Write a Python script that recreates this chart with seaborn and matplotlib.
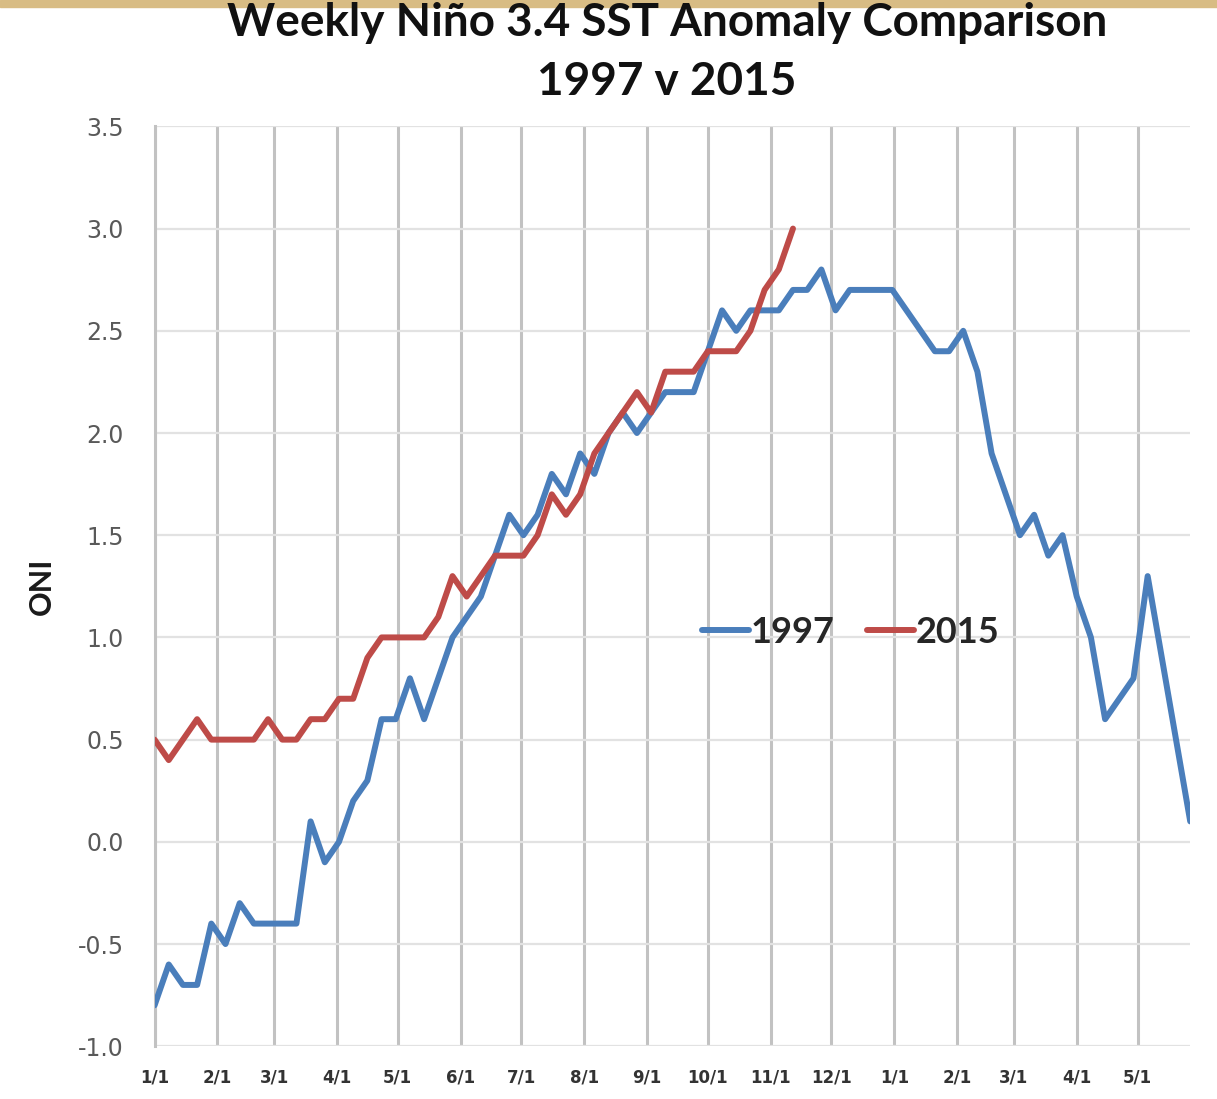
import numpy as np
import pandas as pd
import matplotlib
matplotlib.use('Agg')
import matplotlib.pyplot as plt
import seaborn as sns
from matplotlib.patches import Rectangle

# Anomalias semanais (Niño 3.4)
anom_1997 = [-0.8, -0.6, -0.7, -0.7, -0.4, -0.5, -0.3, -0.4, -0.4, -0.4,
             -0.4, 0.1, -0.1, 0.0, 0.2, 0.3, 0.6, 0.6, 0.8, 0.6,
             0.8, 1.0, 1.1, 1.2, 1.4, 1.6, 1.5, 1.6, 1.8, 1.7,
             1.9, 1.8, 2.0, 2.1, 2.0, 2.1, 2.2, 2.2, 2.2, 2.4,
             2.6, 2.5, 2.6, 2.6, 2.6, 2.7, 2.7, 2.8, 2.6, 2.7,
             2.7, 2.7, 2.7, 2.6, 2.5, 2.4, 2.4, 2.5, 2.3, 1.9,
             1.7, 1.5, 1.6, 1.4, 1.5, 1.2, 1.0, 0.6, 0.7, 0.8,
             1.3, 0.9, 0.5, 0.1]
anom_2015 = [0.5, 0.4, 0.5, 0.6, 0.5, 0.5, 0.5, 0.5, 0.6, 0.5,
             0.5, 0.6, 0.6, 0.7, 0.7, 0.9, 1.0, 1.0, 1.0, 1.0,
             1.1, 1.3, 1.2, 1.3, 1.4, 1.4, 1.4, 1.5, 1.7, 1.6,
             1.7, 1.9, 2.0, 2.1, 2.2, 2.1, 2.3, 2.3, 2.3, 2.4,
             2.4, 2.4, 2.5, 2.7, 2.8, 3.0]
rotulos_meses = ['1/1', '2/1', '3/1', '4/1', '5/1', '6/1', '7/1', '8/1', '9/1',
                 '10/1', '11/1', '12/1', '1/1', '2/1', '3/1', '4/1', '5/1']
ticks_y = [-1.0, -0.5, 0.0, 0.5, 1.0, 1.5, 2.0, 2.5, 3.0, 3.5]

sns.set_theme(style='white')
plt.rcParams['font.family'] = ['Lato', 'DejaVu Sans']

datas = pd.date_range('1997-01-01', periods=len(anom_1997), freq='7D')
df = pd.concat([
    pd.DataFrame({'Data': datas, 'ONI': anom_1997, 'Ano': '1997'}),
    pd.DataFrame({'Data': datas[:len(anom_2015)], 'ONI': anom_2015, 'Ano': '2015'}),
], ignore_index=True)

fig = plt.figure(figsize=(12.17, 10.99), dpi=100)
fig.patch.set_facecolor('white')
fig.patches.append(Rectangle((0, 0.994), 1, 0.006, transform=fig.transFigure,
                             color='#D8BC84', zorder=0))
ax = fig.add_axes([0.127, 0.048, 0.851, 0.837])

sns.lineplot(data=df, x='Data', y='ONI', hue='Ano',
             palette={'1997': '#4A7EBB', '2015': '#BE4B48'},
             linewidth=4.3, ax=ax, zorder=3)

# grade: verticais em cada início de mês, horizontais a cada 0.5
inicio_meses = pd.date_range('1997-01-01', periods=len(rotulos_meses), freq='MS')
ax.set_xticks(inicio_meses)
ax.set_xticklabels(rotulos_meses, fontsize=12, color='#333333', fontweight='bold',
                   fontfamily='DejaVu Sans')
ax.set_xlim(datas[0], datas[-1])
ax.set_yticks(ticks_y)
ax.set_yticklabels([f'{v:.1f}' for v in ticks_y], fontsize=17, color='#595959',
                   fontfamily='DejaVu Sans')
ax.set_ylim(-1.0, 3.5)
ax.grid(axis='x', color='#C2C2C2', linewidth=2.2)
ax.grid(axis='y', color='#E2E2E2', linewidth=1.6)
ax.tick_params(axis='x', length=0, pad=16)
ax.tick_params(axis='y', length=0, pad=22)
for lado in ['top', 'right', 'bottom']:
    ax.spines[lado].set_visible(False)
ax.spines['left'].set_color('#C2C2C2')
ax.spines['left'].set_linewidth(2.2)

ax.set_xlabel('')
ax.set_ylabel('ONI', fontsize=22, fontweight='bold', color='#1a1a1a', labelpad=16)

sns.move_legend(ax, 'center', bbox_to_anchor=(0.672, 0.45), ncol=2, title=None,
                frameon=False, handlelength=1.3, handletextpad=0.05,
                columnspacing=0.9, prop={'size': 26, 'weight': 'bold'})
for linha in ax.get_legend().get_lines():
    linha.set_linewidth(4.3)

fig.text(0.548, 0.979, 'Weekly Niño 3.4 SST Anomaly Comparison',
         ha='center', va='center', fontsize=33, fontweight='bold', color='#111111')
fig.text(0.548, 0.925, '1997 v 2015',
         ha='center', va='center', fontsize=33, fontweight='bold', color='#111111')

plt.savefig('out.png', dpi=100)
plt.close()
